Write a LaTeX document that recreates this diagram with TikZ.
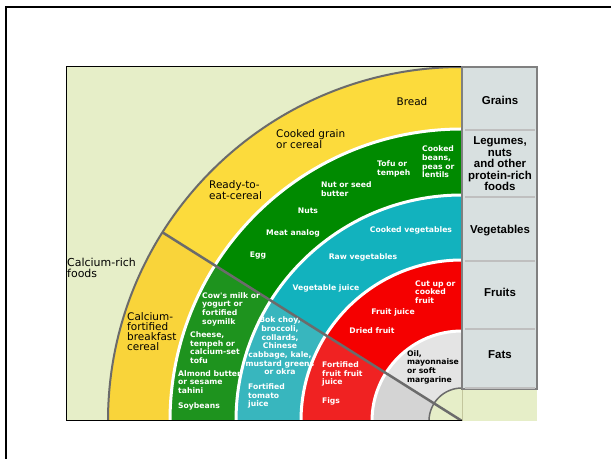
\documentclass[tikz,border=0pt]{standalone}
\usepackage{fontspec}
\newfontfamily\ringfont{DejaVu Sans}
\newfontfamily\colfont{Liberation Sans}

\definecolor{paper}{HTML}{E6EEC8}
\definecolor{colbg}{HTML}{D8E0E0}
\definecolor{grainUp}{HTML}{FCDB3C}
\definecolor{grainLow}{HTML}{F9D43A}
\definecolor{protUp}{HTML}{008A00}
\definecolor{protLow}{HTML}{1E931E}
\definecolor{vegUp}{HTML}{12B2BE}
\definecolor{vegLow}{HTML}{38B6BE}
\definecolor{fruitUp}{HTML}{F50000}
\definecolor{fruitLow}{HTML}{F02222}
\definecolor{fatUp}{HTML}{E4E4E4}
\definecolor{fatLow}{HTML}{D4D4D4}

\newcommand\cutangle{147.8}

\tikzstyle{ring_label} = [
    white,
    font=\ringfont\bfseries\fontsize{7.7}{8.7}\selectfont,
    align=left,
    inner sep=0pt
]
\tikzstyle{dark_label} = [
    ring_label,
    black
]
\tikzstyle{grain_label} = [
    black,
    font=\ringfont\fontsize{10.5}{10}\selectfont,
    align=left,
    inner sep=0pt
]
\tikzstyle{group_label} = [
    black,
    font=\colfont\bfseries\fontsize{11.5}{11.5}\selectfont,
    align=center,
    inner sep=0pt
]
\tikzstyle{rim_line} = [
    draw=black!58,
    line width=2bp
]

\begin{document}
\begin{tikzpicture}[x=1bp, y=1bp]
\useasboundingbox (0,0) rectangle (611,459);
% frame
\draw[line width=2bp] (611,452) -- (6,452) -- (6,0);
% chart area
\fill[paper] (66,38) rectangle (537,392);
\coordinate (hub) at (462,38);
\coordinate (rim) at ([shift={(\cutangle:354)}]hub);
\begin{scope}
\clip (66,38) rectangle (462,392);
\foreach \r/\up/\low in {354/grainUp/grainLow, 292/protUp/protLow,
    226/vegUp/vegLow, 161/fruitUp/fruitLow, 90/fatUp/fatLow} {
    \fill[\up] (hub) -- ++(90:\r) arc[start angle=90, end angle=\cutangle, radius=\r] -- cycle;
    \fill[\low] (hub) -- ++(\cutangle:\r) arc[start angle=\cutangle, end angle=180, radius=\r] -- cycle;
}
% white gaps between the rings
\foreach \r in {292, 226, 161, 90}
    \draw[white, line width=3bp] (hub) ++(90:\r) arc[start angle=90, end angle=180, radius=\r];
\draw[rim_line] (hub) ++(90:354) arc[start angle=90, end angle=180, radius=354];
\filldraw[fill=paper, rim_line, line width=1.5bp] (hub) circle[radius=33];
\draw[rim_line, line width=2.5bp] (hub) -- (rim);
\end{scope}
\draw[line width=1bp] (462,392) -- (66,392) -- (66,38) -- (462,38);

% food groups column
\filldraw[fill=colbg, draw=black!50, line width=1.2bp] (462,70) rectangle (537,392);
\foreach \y in {329, 262, 198, 130, 71}
    \draw[black!25, line width=1.5bp] (465,\y) -- (535,\y);
\node[group_label] (grains) at (500,359) {Grains};
\node[group_label] (legumes) at (500,295) {Legumes,\\nuts\\and other\\protein-rich\\foods};
\node[group_label] (vegetables) at (500,228) {Vegetables};
\node[group_label] (fruits) at (500,167) {Fruits};
\node[group_label] (fats) at (500,104) {Fats};

% grains
\node[grain_label] (bread) at (412,357) {Bread};
\node[grain_label, anchor=west] (grain) at (276,320) {Cooked grain\\or cereal};
\node[grain_label, anchor=west] (readycereal) at (209,269) {Ready-to-\\eat-cereal};
\node[grain_label, anchor=west] (calccereal) at (127,127) {Calcium-\\fortified\\breakfast\\cereal};
\node[grain_label, anchor=west, font=\ringfont\fontsize{11}{10.7}\selectfont] (calcfoods) at (67,191) {Calcium-rich\\foods};

% legumes, nuts
\node[ring_label, anchor=west] (beans) at (422,297) {Cooked\\beans,\\peas or\\lentils};
\node[ring_label, anchor=west] (tofu) at (377,290) {Tofu or\\tempeh};
\node[ring_label, anchor=west] (nutbutter) at (321,270) {Nut or seed\\butter};
\node[ring_label] (nuts) at (308,248) {Nuts};
\node[ring_label] (meatanalog) at (293,226) {Meat analog};
\node[ring_label] (egg) at (258,203) {Egg};
\node[ring_label, anchor=west] (cowmilk) at (202,150) {Cow's milk or\\yogurt or\\fortified\\soymilk};
\node[ring_label, anchor=west] (cheese) at (190,111.5) {Cheese,\\tempeh or\\calcium-set\\tofu};
\node[ring_label, anchor=west] (almond) at (178,77) {Almond butter\\or sesame\\tahini};
\node[ring_label] (soybeans) at (199,53) {Soybeans};

% vegetables
\node[ring_label] (cookedveg) at (411,229) {Cooked vegetables};
\node[ring_label] (rawveg) at (363,202) {Raw vegetables};
\node[ring_label] (vegjuice) at (326,171) {Vegetable juice};
\node[ring_label, align=center] (bokchoy) at (280,113) {Bok choy,\\broccoli,\\collards,\\Chinese\\cabbage, kale,\\mustard greens\\or okra};
\node[ring_label, anchor=west] (tomatojuice) at (248,63) {Fortified\\tomato\\juice};

% fruits
\node[ring_label, anchor=west] (cutfruit) at (415,167) {Cut up or\\cooked\\fruit};
\node[ring_label] (fruitjuice) at (393,147) {Fruit juice};
\node[ring_label] (driedfruit) at (372,128) {Dried fruit};
\node[ring_label, anchor=west] (fortfruit) at (322,85) {Fortified\\fruit fruit\\juice};
\node[ring_label] (figs) at (331,58) {Figs};

% fats
\node[dark_label, anchor=west] (oil) at (407,92) {Oil,\\mayonnaise\\or soft\\margarine};
\end{tikzpicture}
\end{document}
